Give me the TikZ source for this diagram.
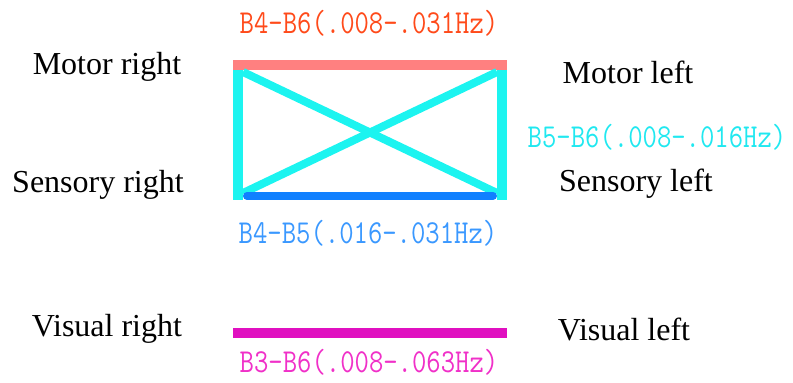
\documentclass[tikz,border=0pt]{standalone}
\usepackage{fontspec}
\setmainfont{Liberation Serif}
\newfontfamily\monof{Latin Modern Mono}
\definecolor{salmonc}{HTML}{FF8080}
\definecolor{orangec}{HTML}{FF4A1A}
\definecolor{cyanc}{HTML}{1CF4F0}
\definecolor{cyantext}{HTML}{20E8F0}
\definecolor{bluec}{HTML}{1080FF}
\definecolor{bluetext}{HTML}{3A98FF}
\definecolor{magc}{HTML}{E010C0}
\definecolor{magtext}{HTML}{F030C8}
\begin{document}
\begin{tikzpicture}[x=1pt,y=-1pt,
  region/.style={inner sep=0pt,font=\fontsize{32}{38}\selectfont,text=black},
  band/.style={inner sep=0pt,font=\monof\fontsize{27.9}{32}\selectfont},
  bar/.style={line width=10pt,line cap=butt}]
\useasboundingbox (0,0) rectangle (793,383);
% region labels
\node[region] (mr) at (107,67) {Motor right};
\node[region] (sr) at (98,185) {Sensory right};
\node[region] (vr) at (107,329) {Visual right};
\node[region] (ml) at (628,72) {Motor left};
\node[region] (sl) at (636,184) {Sensory left};
\node[region] (vl) at (624,329) {Visual left};
% band labels
\node[band,text=orangec] (t1) at (369,23) {\scalebox{1}[1.2]{B4-B6(.008-.031Hz)}};
\node[band,text=cyantext] (t2) at (657,137) {\scalebox{1}[1.2]{B5-B6(.008-.016Hz)}};
\node[band,text=bluetext] (t3) at (368,233) {\scalebox{1}[1.2]{B4-B5(.016-.031Hz)}};
\node[band,text=magtext] (t4) at (369,362) {\scalebox{1}[1.2]{B3-B6(.008-.063Hz)}};
% corner coordinates
\coordinate (a1) at (233,65);
\coordinate (a2) at (507,65);
\coordinate (l1) at (238,70);
\coordinate (l2) at (238,200);
\coordinate (r1) at (502,70);
\coordinate (r2) at (502,200);
\coordinate (d1) at (243,72);
\coordinate (d2) at (497,193);
\coordinate (d3) at (497,72);
\coordinate (d4) at (243,193);
\coordinate (b1) at (247,196);
\coordinate (b2) at (493,196);
\coordinate (v1) at (233,333);
\coordinate (v2) at (507,333);
% lines
\draw[bar,draw=salmonc] (a1) -- (a2);
\draw[bar,draw=cyanc] (l1) -- (l2);
\draw[bar,draw=cyanc] (r1) -- (r2);
\draw[line width=8pt,draw=cyanc] (d1) -- (d2);
\draw[line width=8pt,draw=cyanc] (d3) -- (d4);
\draw[line width=8pt,line cap=round,draw=bluec] (b1) -- (b2);
\draw[bar,draw=magc] (v1) -- (v2);
\end{tikzpicture}
\end{document}
